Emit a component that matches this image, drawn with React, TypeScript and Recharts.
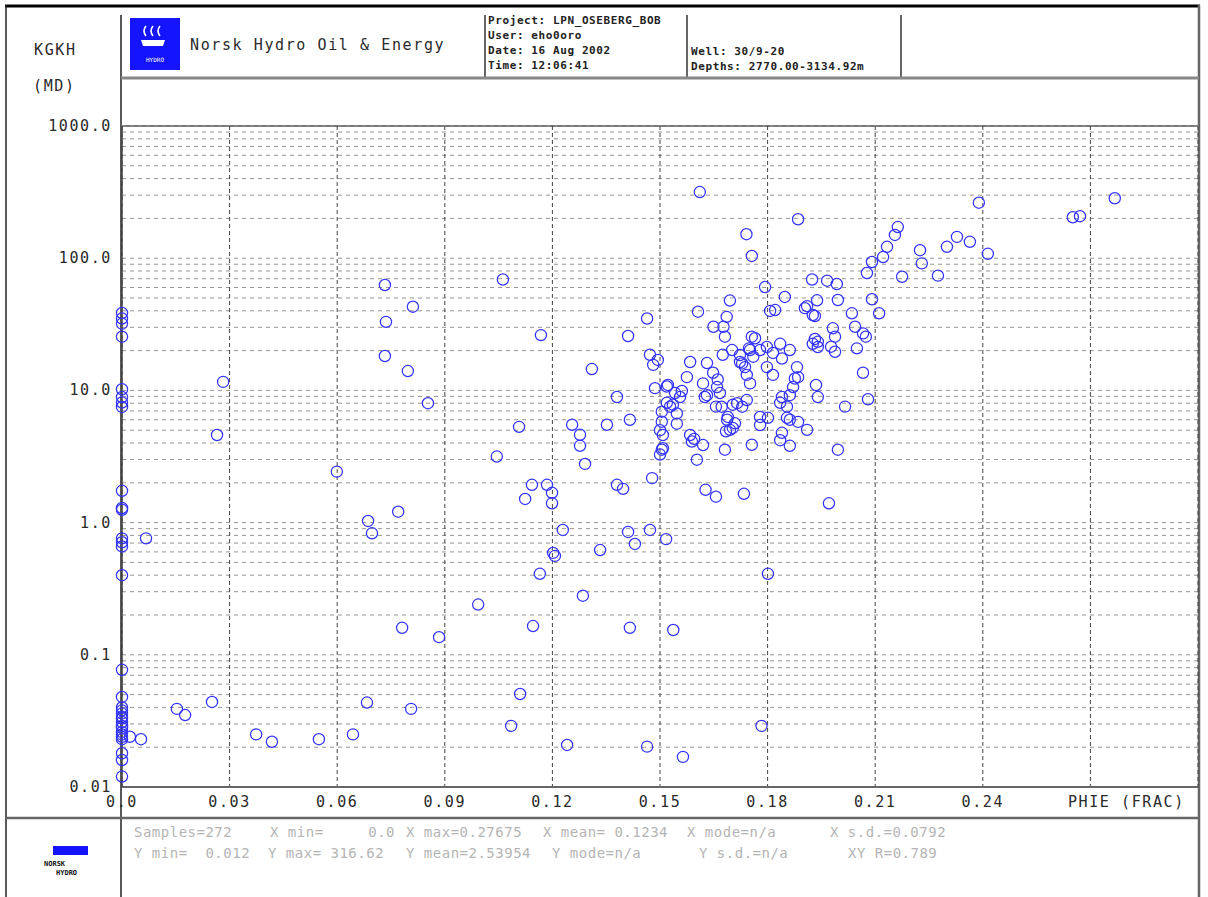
import React from 'react'
import { ScatterChart, Scatter, XAxis, YAxis, CartesianGrid } from 'recharts'

// PHIE (frac) vs KGKH (mD), grouped by porosity band
const bandZero: [number, number][] = [
  [0, 38.5], [0, 35], [0, 32], [0, 25.5], [0, 10.2], [0, 8.9], [0, 8.1], [0, 7.5],
  [0, 1.74], [0, 1.29], [0, 1.25], [0, 0.76], [0, 0.71], [0, 0.66], [0, 0.4], [0, 0.077],
  [0, 0.048], [0, 0.04], [0, 0.038], [0, 0.036], [0, 0.034], [0, 0.033], [0, 0.031], [0, 0.029],
  [0, 0.028], [0, 0.026], [0, 0.025], [0, 0.024], [0, 0.023], [0, 0.018], [0, 0.016], [0, 0.012],
  [0.0022, 0.024], [0.0053, 0.023], [0.0067, 0.76],
]

const bandLow: [number, number][] = [
  [0.0153, 0.039], [0.0176, 0.035], [0.0251, 0.044], [0.0265, 4.6], [0.0282, 11.6],
  [0.0374, 0.025], [0.0418, 0.022], [0.0549, 0.023], [0.0599, 2.43], [0.0644, 0.025],
  [0.0683, 0.0435], [0.0686, 1.03], [0.0697, 0.83], [0.0733, 62.7], [0.0736, 33],
  [0.0733, 18.2], [0.077, 1.21], [0.0781, 0.16], [0.0797, 14], [0.0806, 0.039],
  [0.0811, 43], [0.0853, 8.0], [0.0884, 0.136], [0.0993, 0.24], [0.1045, 3.16],
  [0.1062, 69], [0.1085, 0.029], [0.1107, 5.3], [0.111, 0.0505],
]

const bandMid: [number, number][] = [
  [0.1124, 1.51], [0.1143, 1.93], [0.1146, 0.165], [0.1165, 0.41], [0.1168, 26.2],
  [0.1185, 1.93], [0.1199, 1.68], [0.1199, 1.4], [0.1202, 0.59], [0.1207, 0.56],
  [0.1229, 0.88], [0.1241, 0.0208], [0.1255, 5.5], [0.1277, 4.62], [0.1277, 3.81],
  [0.1291, 2.78], [0.1285, 0.28], [0.131, 14.5], [0.1333, 0.62], [0.1352, 5.5],
  [0.138, 8.91], [0.138, 1.93], [0.1397, 1.8], [0.1411, 25.8], [0.1416, 6.0],
  [0.1416, 0.16], [0.1411, 0.85], [0.143, 0.69], [0.1464, 35], [0.1464, 0.0202],
  [0.1472, 0.88], [0.1478, 2.17], [0.1472, 18.6], [0.1481, 15.6], [0.1486, 10.4],
  [0.1494, 17.0],
]

const band15: [number, number][] = [
  [0.15, 5.0], [0.15, 3.27], [0.1505, 3.56], [0.1508, 3.65], [0.1505, 5.8],
  [0.1505, 6.9], [0.1508, 4.6], [0.1517, 0.75], [0.1519, 10.7], [0.1522, 11.0],
  [0.1519, 8.06], [0.1528, 7.53], [0.1536, 7.8], [0.1542, 9.55], [0.1537, 0.154],
  [0.1547, 6.7], [0.1547, 5.6], [0.1556, 8.91], [0.1561, 9.9], [0.1564, 0.0169],
  [0.1575, 12.6], [0.1584, 4.6], [0.1584, 16.4], [0.1589, 4.1], [0.1595, 4.3],
  [0.1603, 2.99], [0.1606, 39.4],
]

const band16: [number, number][] = [
  [0.1611, 316.62], [0.162, 11.3], [0.162, 3.86], [0.1625, 8.91], [0.1631, 9.2],
  [0.1631, 16.1], [0.1627, 1.77], [0.1648, 13.6], [0.1649, 30.3], [0.1656, 1.57],
  [0.1659, 10.6], [0.1661, 12.1], [0.1656, 7.54], [0.1667, 9.55], [0.1672, 7.53],
  [0.1677, 30.3], [0.1681, 25.5], [0.1681, 3.56], [0.1675, 18.6], [0.1686, 36],
  [0.1687, 6.0], [0.1689, 6.3], [0.1684, 4.9], [0.1695, 5.03], [0.1695, 47.8],
  [0.1701, 20.2], [0.1703, 7.8], [0.1703, 5.2], [0.1709, 5.64], [0.1715, 8.0],
]

const band17: [number, number][] = [
  [0.1723, 18.5], [0.1723, 16.4], [0.1729, 7.53], [0.1729, 16.0], [0.1734, 1.65],
  [0.1737, 15.0], [0.1741, 152], [0.1742, 13.1], [0.1742, 8.45], [0.1748, 20.8],
  [0.1751, 11.3], [0.1756, 104], [0.1756, 25.5], [0.1751, 20.2], [0.1756, 3.88],
  [0.176, 18.0], [0.1765, 24.8], [0.1779, 20.2], [0.1779, 6.3], [0.1779, 5.47],
  [0.1783, 0.029], [0.1793, 60.5], [0.1798, 21.3], [0.1798, 15.0], [0.1801, 6.2],
  [0.1801, 0.41],
]

const band18: [number, number][] = [
  [0.1807, 39.9], [0.1815, 19.2], [0.1815, 13.1], [0.1821, 40.5], [0.1835, 22.5],
  [0.1835, 8.06], [0.184, 17.4], [0.184, 8.91], [0.184, 4.78], [0.1835, 4.2],
  [0.1848, 50.9], [0.1854, 7.53], [0.1854, 6.2], [0.1862, 20.2], [0.1862, 9.2],
  [0.1862, 6.0], [0.1862, 3.81], [0.1871, 10.6], [0.1876, 12.3], [0.1882, 15.0],
  [0.1885, 197], [0.1885, 12.6], [0.1885, 5.78], [0.1904, 41.9], [0.191, 5.03],
  [0.191, 43.4],
]

const band19: [number, number][] = [
  [0.1924, 69], [0.1926, 37.2], [0.1926, 22.5], [0.1932, 24.5], [0.1932, 36.5],
  [0.1935, 11.0], [0.1938, 48], [0.194, 23.3], [0.194, 21.3], [0.194, 8.9],
  [0.1966, 67.6], [0.1971, 1.4], [0.1977, 21.4], [0.1982, 29.5], [0.1988, 25.5],
  [0.1988, 19.6], [0.1993, 63.8], [0.1996, 48.3], [0.1996, 3.56],
]

const bandHigh: [number, number][] = [
  [0.2016, 7.54], [0.2035, 38.3], [0.2044, 30.3], [0.2049, 20.8], [0.2066, 27.0],
  [0.2074, 25.5], [0.2066, 13.6], [0.2077, 77.3], [0.208, 8.57], [0.2091, 93.6],
  [0.2091, 48.9], [0.2111, 38.3], [0.2122, 102], [0.2133, 122], [0.2155, 150],
  [0.2163, 172], [0.2175, 72.4], [0.2225, 115], [0.223, 91.4], [0.2275, 73.8],
  [0.23, 122], [0.2328, 145], [0.2364, 133], [0.2389, 263], [0.2414, 108],
  [0.2651, 204], [0.2671, 208], [0.2768, 284],
]

const phieTicks = [0, 0.03, 0.06, 0.09, 0.12, 0.15, 0.18, 0.21, 0.24, 0.27]
const phieTickLabels = ['0.0', '0.03', '0.06', '0.09', '0.12', '0.15', '0.18', '0.21', '0.24', 'PHIE (FRAC)']

const kgkhTicks = [
  0.01, 0.02, 0.03, 0.04, 0.05, 0.06, 0.07, 0.08, 0.09,
  0.1, 0.2, 0.3, 0.4, 0.5, 0.6, 0.7, 0.8, 0.9,
  1, 2, 3, 4, 5, 6, 7, 8, 9,
  10, 20, 30, 40, 50, 60, 70, 80, 90,
  100, 200, 300, 400, 500, 600, 700, 800, 900,
  1000,
]
const kgkhDecadeLabels: Record<string, string> = {
  '1000': '1000.0', '100': '100.0', '10': '10.0', '1': '1.0', '0.1': '0.1', '0.01': '0.01',
}

const headerInfo = ['Project: LPN_OSEBERG_BOB', 'User: eho0oro', 'Date: 16 Aug 2002', 'Time: 12:06:41']
const wellInfo = ['Well: 30/9-20', 'Depths: 2770.00-3134.92m']
const statsLine1 = ['Samples=272', 'X min=     0.0', 'X max=0.27675', 'X mean= 0.1234', 'X mode=n/a', 'X s.d.=0.0792']
const statsLine2 = ['Y min=  0.012', 'Y max= 316.62', 'Y mean=2.53954', 'Y mode=n/a', 'Y s.d.=n/a', 'XY R=0.789']

const points = [...bandZero, ...bandLow, ...bandMid, ...band15, ...band16, ...band17, ...band18, ...band19, ...bandHigh]
  .map(([phie, kgkh]) => ({ phie, kgkh }))

const MONO = '"DejaVu Sans Mono", "Liberation Mono", monospace'
const BIG = { fontFamily: MONO, fontSize: 15, letterSpacing: 1.6, fill: '#2a2a2a' }

function KgkhTick({ x, y, payload }: any) {
  const label = kgkhDecadeLabels[String(payload.value)]
  if (!label) return <g />
  return <text x={x} y={y} dy={5} textAnchor="end" style={BIG}>{label}</text>
}

function PhieTick({ x, y, payload, index }: any) {
  const label = phieTickLabels[index] ?? String(payload.value)
  const shift = payload.value === 0.27 ? 36 : 0
  return <text x={x + shift} y={y} dy={20} textAnchor="middle" style={BIG}>{label}</text>
}

function Circle(props: any) {
  return <circle cx={props.cx} cy={props.cy} r={5.6} fill="none" stroke="#3333ff" strokeWidth={1.25} />
}

function Frame() {
  const statX = [134, 270, 406, 543, 687, 830]
  const statX2 = [134, 268, 406, 552, 699, 848]
  const small = { fontFamily: MONO, fontSize: 11, letterSpacing: 0.6, fill: '#222', fontWeight: 600 }
  const stat = { fontFamily: MONO, fontSize: 14, letterSpacing: 0.5, fill: '#b4b4b4', whiteSpace: 'pre' as const }
  return (
    <svg width={1208} height={897} style={{ position: 'absolute', left: 0, top: 0 }}>
      <rect x={0} y={0} width={1208} height={897} fill="#fff" />
      <line x1={5} y1={6} x2={1200} y2={6} stroke="#000" strokeWidth={3} />
      <line x1={6} y1={5} x2={6} y2={897} stroke="#222" strokeWidth={1.5} />
      <line x1={1199} y1={5} x2={1199} y2={897} stroke="#666" strokeWidth={2.5} />
      <line x1={121} y1={15} x2={121} y2={897} stroke="#222" strokeWidth={1.5} />
      <line x1={485} y1={15} x2={485} y2={78} stroke="#333" strokeWidth={1.5} />
      <line x1={687} y1={15} x2={687} y2={78} stroke="#333" strokeWidth={1.5} />
      <line x1={901} y1={15} x2={901} y2={78} stroke="#333" strokeWidth={1.5} />
      <line x1={121} y1={78} x2={1199} y2={78} stroke="#888" strokeWidth={3} />
      <line x1={121} y1={126} x2={1199} y2={126} stroke="#777" strokeWidth={2} />
      <line x1={6} y1={818} x2={1199} y2={818} stroke="#666" strokeWidth={2.5} />

      <text x={34} y={55} style={BIG}>KGKH</text>
      <text x={33} y={91} style={BIG}>(MD)</text>

      {/* company logo */}
      <rect x={130} y={18} width={50} height={52} fill="#1414ff" />
      <path d="M146 26 q-4 5 0 10 M153 26 q-4 5 0 10 M160 26 q-4 5 0 10" stroke="#fff" strokeWidth={1.6} fill="none" />
      <path d="M141 40 h24 l-2 6 h-20 z" fill="#fff" />
      <text x={155} y={62} textAnchor="middle" style={{ fontFamily: MONO, fontSize: 6, fill: '#fff' }}>HYDRO</text>
      <text x={190} y={50} style={BIG}>Norsk Hydro Oil &amp; Energy</text>

      {headerInfo.map((t, i) => (
        <text key={t} x={488} y={24 + i * 15} style={small}>{t}</text>
      ))}
      {wellInfo.map((t, i) => (
        <text key={t} x={691} y={55 + i * 15} style={small}>{t}</text>
      ))}

      {statsLine1.map((t, i) => (
        <text key={t} x={statX[i]} y={837} style={stat}>{t}</text>
      ))}
      {statsLine2.map((t, i) => (
        <text key={t} x={statX2[i]} y={858} style={stat}>{t}</text>
      ))}

      {/* footer logo */}
      <rect x={53} y={846} width={35} height={9} fill="#1414ff" />
      <text x={44} y={866} style={{ fontFamily: MONO, fontSize: 7, fill: '#111', fontWeight: 700 }}>NORSK</text>
      <text x={56} y={875} style={{ fontFamily: MONO, fontSize: 7, fill: '#111', fontWeight: 700 }}>HYDRO</text>
    </svg>
  )
}

export default function App() {
  return (
    <div style={{ position: 'absolute', left: 0, top: 0, width: 1208, height: 897, background: '#fff' }}>
      <Frame />
      <div style={{ position: 'absolute', left: 0, top: 0 }}>
        <ScatterChart width={1208} height={897} margin={{ top: 126, right: 10, bottom: 80, left: 6 }}>
          <CartesianGrid vertical={false} stroke="#959595" strokeDasharray="4 4" />
          <CartesianGrid horizontal={false} stroke="#444" strokeDasharray="4 3" />
          <XAxis
            type="number"
            dataKey="phie"
            domain={[0, 0.3]}
            ticks={phieTicks}
            interval={0}
            height={30}
            tickSize={0}
            tickMargin={0}
            tick={<PhieTick />}
            axisLine={{ stroke: '#666', strokeWidth: 2 }}
            tickLine={false}
          />
          <YAxis
            type="number"
            dataKey="kgkh"
            scale="log"
            domain={[0.01, 1000]}
            ticks={kgkhTicks}
            interval={0}
            width={116}
            tickSize={0}
            tickMargin={10}
            tick={<KgkhTick />}
            axisLine={{ stroke: '#444', strokeWidth: 1.5 }}
            tickLine={false}
          />
          <Scatter data={points} shape={<Circle />} isAnimationActive={false} />
        </ScatterChart>
      </div>
    </div>
  )
}
